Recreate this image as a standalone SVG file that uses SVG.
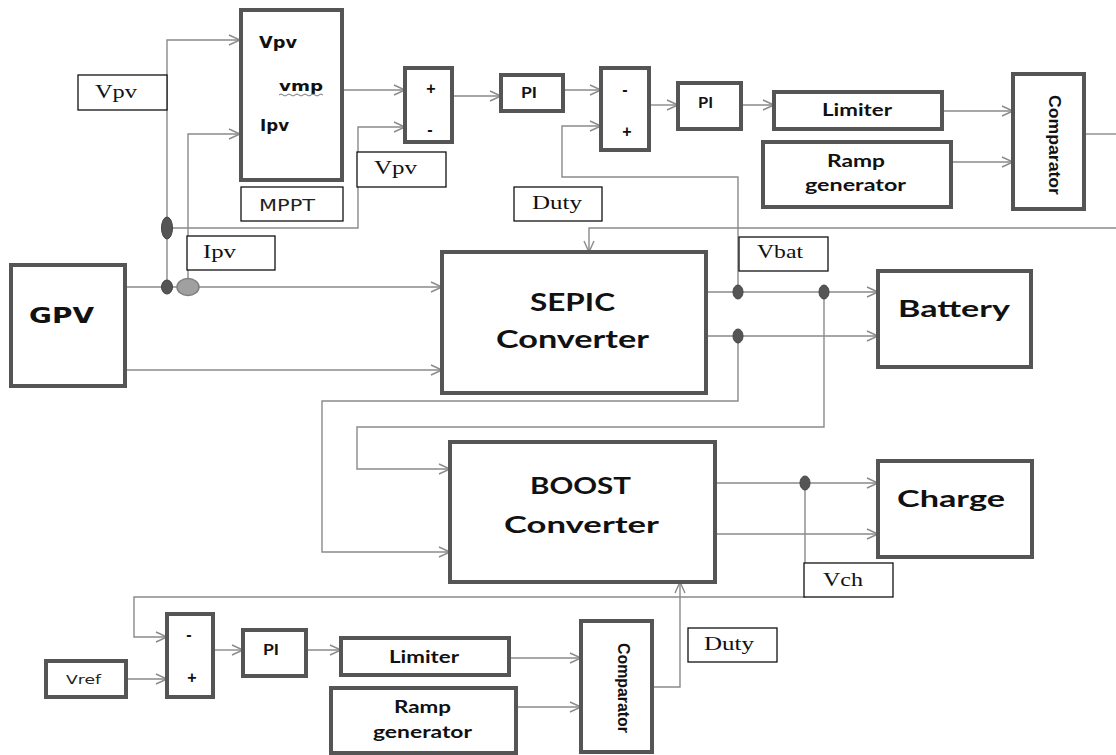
<svg xmlns="http://www.w3.org/2000/svg" width="1116" height="755" viewBox="0 0 1116 755">
<style>
.blk{fill:#fff;stroke:#555;stroke-width:4}
.lbl{fill:#fff;stroke:#111;stroke-width:1.3}
.ln{fill:none;stroke:#8a8a8a;stroke-width:1.4}
.ar{marker-end:url(#arr)}
.dot{fill:#555;stroke:#444;stroke-width:1}
.b{font-family:Lato,"Open Sans",sans-serif;font-weight:bold;fill:#111}
.d{font-family:"DejaVu Sans",Verdana,sans-serif;font-weight:bold;fill:#111}
.c{font-family:"Liberation Sans",Arial,sans-serif;font-weight:bold;fill:#111}
.s{font-family:"Liberation Serif","Times New Roman",serif;font-size:18px;fill:#111}
.n{font-family:"DejaVu Sans",Verdana,sans-serif;fill:#222}
</style>
<defs>
<marker id="arr" markerUnits="userSpaceOnUse" markerWidth="14" markerHeight="12" refX="12" refY="6" orient="auto">
<path d="M1,1 L12,6 L1,11" fill="none" stroke="#8a8a8a" stroke-width="1.4"/>
</marker>
</defs>

<g id="connectors">
<path class="ln ar" d="M125,287 H442"/>
<path class="ln ar" d="M125,370 H442"/>
<path class="ln ar" d="M167,287 V40 H240"/>
<path class="ln ar" d="M167,228 H358 V127 H405"/>
<path class="ln ar" d="M188,287 V134 H240"/>
<path class="ln ar" d="M343,90 H405"/>
<path class="ln ar" d="M452,96 H501"/>
<path class="ln ar" d="M563,90 H601"/>
<path class="ln ar" d="M649,105 H678"/>
<path class="ln ar" d="M741,105 H774"/>
<path class="ln ar" d="M942,111 H1013"/>
<path class="ln ar" d="M951,162 H1013"/>
<path class="ln" d="M1084,134 H1116"/>
<path class="ln ar" d="M1116,228 H589 V252"/>
<path class="ln ar" d="M738,292 V177 H562 V126 H601"/>
<path class="ln ar" d="M706,292 H878"/>
<path class="ln ar" d="M706,336 H878"/>
<path class="ln ar" d="M738,336 V401 H322 V552 H450"/>
<path class="ln ar" d="M824,292 V427 H357 V469 H450"/>
<path class="ln ar" d="M715,483 H878"/>
<path class="ln ar" d="M715,534 H878"/>
<path class="ln ar" d="M805,483 V597 H134 V637 H167"/>
<path class="ln ar" d="M126,679 H167"/>
<path class="ln ar" d="M213,650 H243"/>
<path class="ln ar" d="M306,650 H341"/>
<path class="ln ar" d="M509,658 H581"/>
<path class="ln ar" d="M516,707 H581"/>
<path class="ln ar" d="M652,687 H680 V582"/>
<ellipse class="dot" cx="167" cy="287" rx="5.5" ry="7"/>
<ellipse cx="188" cy="287" rx="11" ry="8.5" fill="#a0a0a0" stroke="#808080" stroke-width="1.5"/>
<ellipse class="dot" cx="167" cy="228" rx="5.5" ry="11"/>
<ellipse class="dot" cx="738" cy="292" rx="5" ry="7"/>
<ellipse class="dot" cx="824" cy="292" rx="5" ry="7"/>
<ellipse class="dot" cx="738" cy="336" rx="5" ry="7"/>
<ellipse class="dot" cx="805" cy="483" rx="5" ry="7"/>
</g>

<g id="gpv">
<rect class="blk" x="11" y="265" width="114" height="121"/>
<text class="d" x="29" y="323" font-size="21" textLength="65" lengthAdjust="spacingAndGlyphs">GPV</text>
</g>

<g id="mppt">
<rect class="blk" x="241" y="10" width="101" height="170"/>
<text class="d" x="259" y="48" font-size="15" textLength="38" lengthAdjust="spacingAndGlyphs">Vpv</text>
<text class="d" x="279" y="91" font-size="14" textLength="44" lengthAdjust="spacingAndGlyphs">vmp</text>
<path d="M279,95 q2,-2 4,0 t4,0 t4,0 t4,0 t4,0 t4,0 t4,0 t4,0 t4,0 t4,0 t4,0" fill="none" stroke="#777" stroke-width="1"/>
<text class="d" x="260" y="131" font-size="15" textLength="29" lengthAdjust="spacingAndGlyphs">Ipv</text>
</g>
<g id="mppt-label">
<rect class="lbl" x="241" y="187" width="102" height="34"/>
<text class="n" x="259" y="211" font-size="16" textLength="56" lengthAdjust="spacingAndGlyphs">MPPT</text>
</g>

<g id="label-vpv1">
<rect class="lbl" x="78" y="75" width="89" height="35"/>
<text class="s" x="95" y="98" textLength="42" lengthAdjust="spacingAndGlyphs">Vpv</text>
</g>
<g id="label-vpv2">
<rect class="lbl" x="357" y="152" width="89" height="35"/>
<text class="s" x="374" y="174" textLength="43" lengthAdjust="spacingAndGlyphs">Vpv</text>
</g>
<g id="label-ipv">
<rect class="lbl" x="187" y="236" width="88" height="34"/>
<text class="s" x="203" y="258" textLength="33" lengthAdjust="spacingAndGlyphs">Ipv</text>
</g>

<g id="sum1">
<rect class="blk" x="405" y="68" width="47" height="74"/>
<text class="c" x="431" y="94" font-size="16" text-anchor="middle">+</text>
<text class="c" x="430" y="135" font-size="16" text-anchor="middle">-</text>
</g>
<g id="pi1">
<rect class="blk" x="501" y="75" width="62" height="36"/>
<text class="b" x="521" y="98" font-size="15" textLength="16" lengthAdjust="spacingAndGlyphs">PI</text>
</g>
<g id="sum2">
<rect class="blk" x="601" y="68" width="48" height="82"/>
<text class="c" x="625" y="95" font-size="16" text-anchor="middle">-</text>
<text class="c" x="627" y="137" font-size="16" text-anchor="middle">+</text>
</g>
<g id="pi2">
<rect class="blk" x="678" y="83" width="63" height="46"/>
<text class="b" x="698" y="108" font-size="15" textLength="15" lengthAdjust="spacingAndGlyphs">PI</text>
</g>
<g id="limiter1">
<rect class="blk" x="774" y="92" width="168" height="37"/>
<text class="b" x="822" y="116" font-size="16.5" textLength="70" lengthAdjust="spacingAndGlyphs">Limiter</text>
</g>
<g id="ramp1">
<rect class="blk" x="763" y="142" width="188" height="65"/>
<text class="b" x="827" y="167" font-size="16.5" textLength="58" lengthAdjust="spacingAndGlyphs">Ramp</text>
<text class="b" x="805" y="191" font-size="16.5" textLength="101" lengthAdjust="spacingAndGlyphs">generator</text>
</g>
<g id="comparator1">
<rect class="blk" x="1013" y="74" width="71" height="135"/>
<text class="c" transform="translate(1049,95) rotate(90)" x="0" y="0" font-size="17" textLength="100" lengthAdjust="spacingAndGlyphs">Comparator</text>
</g>

<g id="label-duty1">
<rect class="lbl" x="514" y="187" width="88" height="34"/>
<text class="s" x="532" y="209" textLength="50" lengthAdjust="spacingAndGlyphs">Duty</text>
</g>
<g id="label-vbat">
<rect class="lbl" x="739" y="237" width="89" height="34"/>
<text class="s" x="757" y="258" textLength="46" lengthAdjust="spacingAndGlyphs">Vbat</text>
</g>

<g id="sepic">
<rect class="blk" x="442" y="252" width="264" height="141"/>
<text class="b" x="530" y="311" font-size="24" textLength="85" lengthAdjust="spacingAndGlyphs">SEPIC</text>
<text class="b" x="496" y="348" font-size="24" textLength="153" lengthAdjust="spacingAndGlyphs">Converter</text>
</g>
<g id="battery">
<rect class="blk" x="878" y="271" width="153" height="96"/>
<text class="b" x="898" y="317" font-size="23" textLength="112" lengthAdjust="spacingAndGlyphs">Battery</text>
</g>

<g id="boost">
<rect class="blk" x="450" y="442" width="265" height="140"/>
<text class="b" x="530" y="494" font-size="23" textLength="101" lengthAdjust="spacingAndGlyphs">BOOST</text>
<text class="b" x="504" y="533" font-size="23" textLength="155" lengthAdjust="spacingAndGlyphs">Converter</text>
</g>
<g id="charge">
<rect class="blk" x="878" y="461" width="154" height="96"/>
<text class="b" x="897" y="507" font-size="23" textLength="108" lengthAdjust="spacingAndGlyphs">Charge</text>
</g>
<g id="label-vch">
<rect class="lbl" x="804" y="563" width="89" height="34"/>
<text class="s" x="823" y="586" textLength="40" lengthAdjust="spacingAndGlyphs">Vch</text>
</g>

<g id="vref">
<rect class="blk" x="46" y="661" width="80" height="36"/>
<text class="n" x="66" y="684" font-size="13" textLength="35" lengthAdjust="spacingAndGlyphs">Vref</text>
</g>
<g id="sum3">
<rect class="blk" x="167" y="614" width="46" height="83"/>
<text class="c" x="189" y="640" font-size="16" text-anchor="middle">-</text>
<text class="c" x="192" y="683" font-size="16" text-anchor="middle">+</text>
</g>
<g id="pi3">
<rect class="blk" x="243" y="630" width="63" height="46"/>
<text class="b" x="263" y="655" font-size="15" textLength="16" lengthAdjust="spacingAndGlyphs">PI</text>
</g>
<g id="limiter2">
<rect class="blk" x="341" y="638" width="168" height="37"/>
<text class="b" x="389" y="663" font-size="16.5" textLength="70" lengthAdjust="spacingAndGlyphs">Limiter</text>
</g>
<g id="ramp2">
<rect class="blk" x="331" y="688" width="185" height="65"/>
<text class="b" x="394" y="713" font-size="16.5" textLength="57" lengthAdjust="spacingAndGlyphs">Ramp</text>
<text class="b" x="373" y="738" font-size="16.5" textLength="99" lengthAdjust="spacingAndGlyphs">generator</text>
</g>
<g id="comparator2">
<rect class="blk" x="581" y="621" width="71" height="131"/>
<text class="c" transform="translate(618,643) rotate(90)" x="0" y="0" font-size="17" textLength="90" lengthAdjust="spacingAndGlyphs">Comparator</text>
</g>
<g id="label-duty2">
<rect class="lbl" x="688" y="628" width="89" height="34"/>
<text class="s" x="704" y="650" textLength="50" lengthAdjust="spacingAndGlyphs">Duty</text>
</g>
</svg>
